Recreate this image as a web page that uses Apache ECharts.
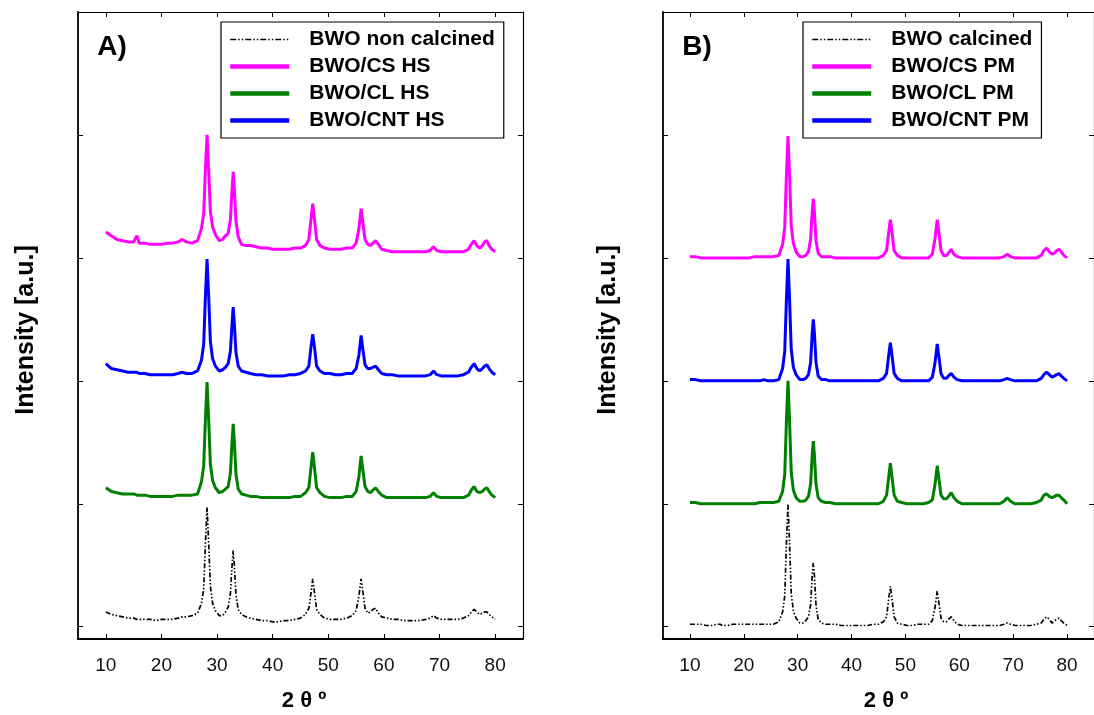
<!DOCTYPE html>
<html><head><meta charset="utf-8">
<script src="https://cdn.jsdelivr.net/npm/echarts@6/dist/echarts.min.js"></script>
<style>html,body{margin:0;padding:0;background:#fff}#c{width:1094px;height:715px}</style>
</head><body><div id="c"></div>
<script>
// 2θ grid (degrees) shared by all patterns
const twoTheta = [
 10,11,12,13,14,15,15.6,16,17,18,
 19,20,21,22,23,23.7,24.5,25.5,26.5,27.2,
 27.6,27.9,28.2,28.5,28.8,29.2,29.7,30.4,31,31.5,
 32,32.4,32.7,32.9,33.1,33.4,33.8,34.4,35.2,36,
 37,38,39,40,41,42,43,44,45,45.9,
 46.5,46.9,47.2,47.5,47.9,48.5,49.3,50.3,51.3,52.3,
 53.3,54.3,55,55.5,55.9,56.2,56.6,57.1,57.6,58,
 58.5,59,59.6,60.5,61.5,62.5,63.5,64.5,65.5,66.5,
 67.5,68.3,68.9,69.5,70.3,71.3,72.3,73.3,74.3,75.2,
 75.7,76.2,76.7,77.2,77.7,78.1,78.5,78.9,79.4,80];
const xTicks = [10,20,30,40,50,60,70,80];
const yTicks = [0,1,2,3,4];

// Panel A (HS)
const bwoNonCalcined = [
 0.12,0.10,0.09,0.08,0.07,0.07,0.06,0.06,0.06,0.06,
 0.05,0.06,0.06,0.06,0.07,0.08,0.08,0.09,0.11,0.19,
 0.31,0.67,0.97,0.67,0.33,0.19,0.13,0.09,0.09,0.12,
 0.16,0.27,0.50,0.62,0.50,0.26,0.14,0.10,0.08,0.07,
 0.06,0.05,0.05,0.04,0.04,0.05,0.05,0.06,0.07,0.10,
 0.15,0.28,0.39,0.28,0.14,0.10,0.07,0.06,0.06,0.06,
 0.07,0.09,0.13,0.25,0.39,0.29,0.15,0.11,0.12,0.14,
 0.15,0.11,0.08,0.07,0.06,0.06,0.05,0.05,0.05,0.05,
 0.06,0.07,0.09,0.07,0.06,0.06,0.06,0.06,0.07,0.09,
 0.12,0.14,0.12,0.10,0.11,0.12,0.12,0.10,0.08,0.06];
const bwoCsHS = [
 3.21,3.18,3.15,3.14,3.13,3.13,3.18,3.12,3.12,3.11,
 3.11,3.11,3.12,3.12,3.13,3.15,3.13,3.12,3.14,3.24,
 3.36,3.71,4.00,3.71,3.38,3.25,3.19,3.14,3.15,3.18,
 3.20,3.31,3.56,3.70,3.56,3.30,3.17,3.11,3.10,3.10,
 3.09,3.08,3.08,3.07,3.07,3.07,3.07,3.08,3.08,3.10,
 3.15,3.32,3.44,3.32,3.15,3.10,3.08,3.07,3.07,3.07,
 3.08,3.08,3.12,3.24,3.40,3.29,3.15,3.11,3.10,3.12,
 3.14,3.11,3.07,3.06,3.05,3.05,3.05,3.05,3.05,3.05,
 3.05,3.06,3.09,3.06,3.05,3.05,3.05,3.05,3.05,3.07,
 3.11,3.14,3.10,3.08,3.10,3.13,3.14,3.10,3.07,3.05];
const bwoClHS = [
 1.13,1.10,1.09,1.08,1.08,1.08,1.07,1.07,1.07,1.06,
 1.06,1.06,1.06,1.06,1.07,1.07,1.07,1.07,1.08,1.18,
 1.31,1.68,1.99,1.68,1.32,1.19,1.13,1.09,1.10,1.12,
 1.14,1.25,1.51,1.65,1.51,1.24,1.12,1.08,1.07,1.06,
 1.06,1.05,1.05,1.05,1.05,1.05,1.05,1.06,1.06,1.09,
 1.13,1.30,1.42,1.30,1.13,1.09,1.06,1.05,1.05,1.05,
 1.06,1.06,1.10,1.22,1.39,1.28,1.14,1.10,1.09,1.11,
 1.13,1.10,1.07,1.05,1.05,1.05,1.05,1.05,1.05,1.05,
 1.05,1.06,1.09,1.06,1.05,1.05,1.05,1.05,1.05,1.07,
 1.11,1.14,1.10,1.09,1.10,1.12,1.13,1.10,1.07,1.05];
const bwoCntHS = [
 2.14,2.10,2.09,2.08,2.07,2.07,2.07,2.06,2.06,2.05,
 2.05,2.05,2.05,2.05,2.06,2.07,2.06,2.06,2.08,2.17,
 2.30,2.68,2.99,2.68,2.32,2.18,2.12,2.08,2.09,2.11,
 2.14,2.24,2.47,2.60,2.47,2.23,2.12,2.08,2.07,2.06,
 2.05,2.05,2.04,2.04,2.04,2.04,2.05,2.05,2.06,2.08,
 2.12,2.28,2.38,2.28,2.12,2.08,2.06,2.06,2.05,2.05,
 2.06,2.06,2.10,2.21,2.37,2.26,2.13,2.10,2.10,2.11,
 2.12,2.09,2.06,2.05,2.05,2.04,2.04,2.04,2.04,2.04,
 2.04,2.05,2.08,2.05,2.04,2.04,2.04,2.04,2.05,2.07,
 2.11,2.14,2.10,2.08,2.10,2.12,2.13,2.10,2.07,2.05];

// Panel B (PM)
const bwoCalcined = [
 0.02,0.02,0.02,0.01,0.01,0.02,0.02,0.01,0.01,0.02,
 0.02,0.02,0.02,0.02,0.02,0.02,0.02,0.02,0.04,0.12,
 0.25,0.67,1.00,0.67,0.27,0.13,0.07,0.03,0.03,0.05,
 0.08,0.18,0.42,0.52,0.42,0.18,0.06,0.03,0.02,0.02,
 0.02,0.01,0.01,0.01,0.01,0.01,0.01,0.02,0.02,0.04,
 0.08,0.23,0.33,0.23,0.08,0.03,0.02,0.01,0.01,0.02,
 0.02,0.02,0.05,0.16,0.29,0.20,0.07,0.04,0.04,0.06,
 0.08,0.05,0.02,0.01,0.01,0.01,0.01,0.01,0.01,0.01,
 0.01,0.02,0.03,0.02,0.01,0.01,0.01,0.01,0.02,0.03,
 0.06,0.08,0.06,0.03,0.05,0.06,0.07,0.05,0.03,0.01];
const bwoCsPM = [
 3.01,3.01,3.00,3.00,3.00,3.00,3.00,3.00,3.00,3.00,
 3.00,3.00,3.00,3.01,3.01,3.01,3.01,3.01,3.02,3.11,
 3.25,3.66,3.99,3.66,3.26,3.12,3.05,3.01,3.01,3.02,
 3.05,3.15,3.38,3.48,3.38,3.14,3.04,3.01,3.01,3.01,
 3.00,3.00,3.00,3.00,3.00,3.00,3.00,3.00,3.00,3.02,
 3.06,3.21,3.31,3.21,3.06,3.02,3.00,3.00,3.00,3.00,
 3.00,3.00,3.03,3.16,3.31,3.21,3.06,3.02,3.02,3.04,
 3.07,3.03,3.01,3.00,3.00,3.00,3.00,3.00,3.00,3.00,
 3.00,3.01,3.03,3.01,3.00,3.00,3.00,3.00,3.00,3.02,
 3.06,3.08,3.05,3.03,3.04,3.06,3.07,3.05,3.02,3.00];
const bwoClPM = [
 1.01,1.01,1.00,1.00,1.00,1.00,1.00,1.00,1.00,1.00,
 1.00,1.00,1.00,1.00,1.01,1.01,1.01,1.01,1.02,1.10,
 1.24,1.66,2.00,1.66,1.26,1.11,1.05,1.02,1.02,1.03,
 1.06,1.16,1.40,1.51,1.40,1.16,1.05,1.02,1.01,1.01,
 1.00,1.00,1.00,1.00,1.00,1.00,1.00,1.00,1.00,1.02,
 1.07,1.22,1.33,1.22,1.07,1.02,1.01,1.00,1.00,1.00,
 1.00,1.01,1.03,1.16,1.31,1.21,1.07,1.04,1.04,1.06,
 1.09,1.05,1.02,1.00,1.00,1.00,1.00,1.00,1.00,1.00,
 1.00,1.02,1.05,1.02,1.00,1.00,1.00,1.00,1.01,1.03,
 1.07,1.08,1.06,1.05,1.06,1.07,1.07,1.05,1.03,1.00];
const bwoCntPM = [
 2.01,2.01,2.00,2.00,2.00,2.00,2.00,2.00,2.00,2.00,
 2.00,2.00,2.00,2.00,2.00,2.01,2.00,2.00,2.01,2.10,
 2.24,2.65,2.99,2.65,2.26,2.11,2.05,2.01,2.01,2.02,
 2.05,2.15,2.39,2.50,2.39,2.15,2.04,2.01,2.01,2.00,
 2.00,2.00,2.00,2.00,2.00,2.00,2.00,2.00,2.00,2.02,
 2.06,2.21,2.31,2.21,2.06,2.02,2.00,2.00,2.00,2.00,
 2.00,2.00,2.03,2.15,2.30,2.20,2.06,2.02,2.02,2.04,
 2.06,2.03,2.01,2.00,2.00,2.00,2.00,2.00,2.00,2.00,
 2.00,2.01,2.02,2.01,2.00,2.00,2.00,2.00,2.00,2.02,
 2.05,2.07,2.05,2.03,2.04,2.05,2.06,2.04,2.02,2.00];

const namesA = ['BWO non calcined','BWO/CS HS','BWO/CL HS','BWO/CNT HS'];
const namesB = ['BWO calcined','BWO/CS PM','BWO/CL PM','BWO/CNT PM'];

const FONT = 'Liberation Sans, Arial, sans-serif';
const C_MAG = '#ff00ff', C_GRN = '#008000', C_BLU = '#0000ff', C_BLK = '#000000';
const dashDot = [5,2,1.5,2,1.5,2];

const pairs = ys => twoTheta.map((x,i)=>[x, ys[i]]);

function line(name, ys, color, xi, black){
  return {
    name, type:'line', xAxisIndex:xi, yAxisIndex:xi, data: pairs(ys),
    symbol:'none', smooth:false, animation:false,
    lineStyle: black ? {color, width:1.7, type:dashDot} : {color, width:3},
    itemStyle:{color}
  };
}

function xAx(gi, top){
  return {
    type:'value', gridIndex:gi, min:5, max:85, position: top?'top':'bottom',
    axisLine:{show:true, onZero:false, lineStyle:{color:'#000', width: top?1.2:1.8}},
    axisTick:{show:true, inside:true, length:5, customValues:xTicks, lineStyle:{color:'#000'}},
    axisLabel:{show:!top, customValues:xTicks, margin:17, fontFamily:FONT, fontSize:19, color:'#111'},
    splitLine:{show:false}
  };
}
function yAx(gi, right){
  return {
    type:'value', gridIndex:gi, min:-0.1, max:5, position: right?'right':'left',
    axisLine:{show:true, onZero:false, lineStyle:{color:'#000', width: right?1.2:1.8}},
    axisTick:{show:true, inside:true, length:5, customValues:yTicks, lineStyle:{color:'#000'}},
    axisLabel:{show:false},
    splitLine:{show:false}
  };
}

function legend(left, names){
  return {
    left, top:22, orient:'vertical', selectedMode:false,
    itemWidth:59, itemHeight:14, itemGap:6,
    padding:[7,9,7,7], borderColor:'#000', borderWidth:1.2, backgroundColor:'#fff',
    textStyle:{fontFamily:FONT, fontSize:21, fontWeight:'bold', color:'#000', lineHeight:20, padding:[0,0,0,15]},
    data: names.map((n,i)=>({
      name:n,
      itemStyle:{opacity:0, borderWidth:0},
      lineStyle: i===0 ? {width:1.4, type:[6,2,1.5,2,1.5,2]} : {width:4.5}
    }))
  };
}

function txt(x, y, text, size, rot){
  return {type:'text', x, y, rotation: rot||0, silent:true,
    style:{text, fill:'#000', font:'bold '+size+'px '+FONT,
      textAlign:'center', textVerticalAlign:'middle', align:'center', verticalAlign:'middle'}};
}

const chart = echarts.init(document.getElementById('c'), null, {renderer:'canvas'});
chart.setOption({
  animation:false,
  backgroundColor:'#fff',
  grid:[
    {left:78, top:12, width:445, height:627},
    {left:663, top:12, width:443, height:627}
  ],
  xAxis:[xAx(0,false), xAx(0,true), xAx(1,false), xAx(1,true)],
  yAxis:[yAx(0,false), yAx(0,true), yAx(1,false), yAx(1,true)],
  legend:[legend(221, namesA), legend(803, namesB)],
  series:[
    line(namesA[0], bwoNonCalcined, C_BLK, 0, true),
    line(namesA[2], bwoClHS, C_GRN, 0),
    line(namesA[3], bwoCntHS, C_BLU, 0),
    line(namesA[1], bwoCsHS, C_MAG, 0),
    line(namesB[0], bwoCalcined, C_BLK, 2, true),
    line(namesB[2], bwoClPM, C_GRN, 2),
    line(namesB[3], bwoCntPM, C_BLU, 2),
    line(namesB[1], bwoCsPM, C_MAG, 2)
  ],
  graphic:[
    txt(112, 47, 'A)', 28),
    txt(697, 47, 'B)', 28),
    txt(26, 330, 'Intensity [a.u.]', 25, Math.PI/2),
    txt(608, 330, 'Intensity [a.u.]', 25, Math.PI/2),
    txt(304, 701, '2 θ º', 22),
    txt(886, 701, '2 θ º', 22)
  ]
});
</script>
</body></html>
